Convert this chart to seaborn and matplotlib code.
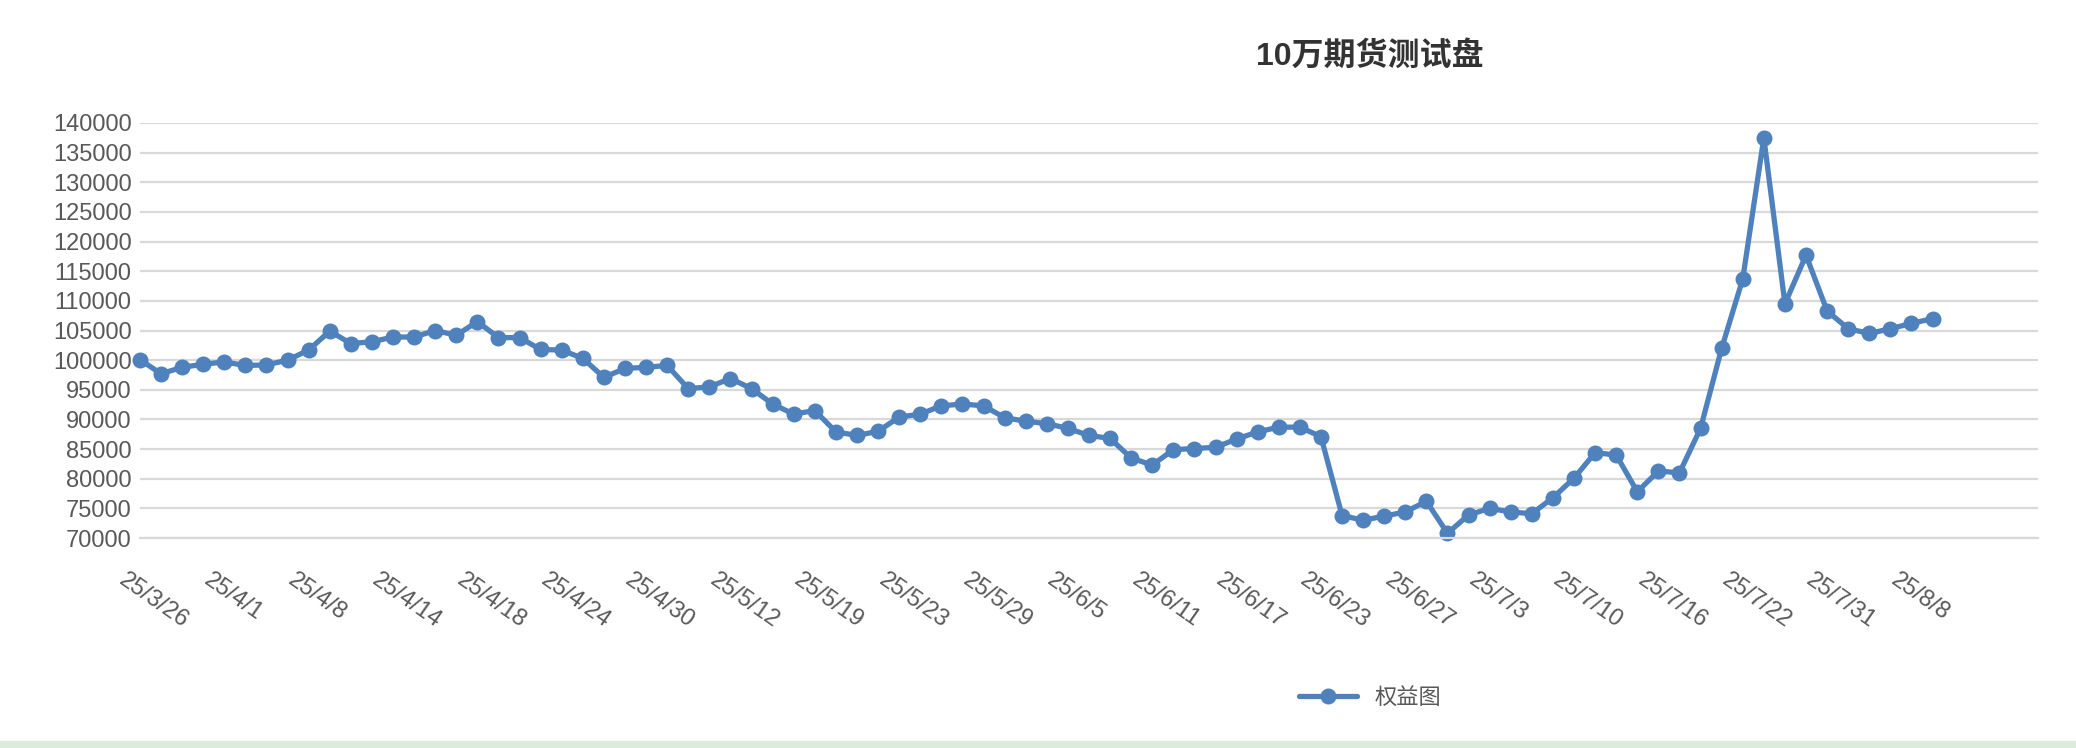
import pandas as pd
import seaborn as sns
import matplotlib.pyplot as plt
import matplotlib.transforms as mtransforms
from matplotlib.patches import Rectangle

# equity values, one per trading day
equity = [
    100100, 97700, 98800, 99300, 99700, 99100, 99200, 100000, 101700, 104900,
    102800, 103100, 103900, 103900, 105000, 104200, 106500, 103800, 103800, 101800,
    101700, 100300, 97100, 98600, 98800, 99100, 95200, 95500, 96900, 95200,
    92600, 90900, 91500, 87900, 87300, 88000, 90400, 90900, 92300, 92600,
    92300, 90300, 89700, 89300, 88500, 87300, 86800, 83500, 82300, 84900,
    85100, 85300, 86700, 87900, 88700, 88700, 87100, 73800, 73000, 73700,
    74400, 76200, 70800, 73900, 75000, 74400, 74100, 76800, 80100, 84400,
    84000, 77800, 81300, 81000, 88500, 102000, 113700, 137500, 109500, 117700,
    108300, 105300, 104500, 105300, 106200, 107000,
]
date_labels = [
    '25/3/26', '25/4/1', '25/4/8', '25/4/14', '25/4/18', '25/4/24', '25/4/30',
    '25/5/12', '25/5/19', '25/5/23', '25/5/29', '25/6/5', '25/6/11', '25/6/17',
    '25/6/23', '25/6/27', '25/7/3', '25/7/10', '25/7/16', '25/7/22', '25/7/31',
    '25/8/8',
]
n_categories = 91  # axis keeps a few empty slots after the last day

sns.set_style('white')
plt.rcParams['font.family'] = ['Liberation Sans', 'Noto Sans CJK SC']

df = pd.DataFrame({'day': range(len(equity)), 'equity': equity})

fig = plt.figure(figsize=(20.76, 7.48), dpi=100)
ax = fig.add_axes([0.0674, 0.2807, 0.9143, 0.5549])

sns.lineplot(data=df, x='day', y='equity', ax=ax, color='#4F81BD', linewidth=3.8,
             marker='o', markersize=11.5, markeredgewidth=0, label='权益图', clip_on=False)

ax.set_xlim(0, n_categories - 1)
ax.set_ylim(70000, 140000)
ax.set_yticks(range(70000, 140001, 5000))
ax.yaxis.grid(True, color='#D9D9D9', linewidth=1.6)
ax.set_axisbelow(True)
for side in ['top', 'right', 'left']:
    ax.spines[side].set_visible(False)
ax.spines['bottom'].set_color('#D9D9D9')
ax.spines['bottom'].set_linewidth(1.6)

ax.set_xticks(range(0, n_categories, 2), minor=True)
ax.set_xticks(range(0, 4 * len(date_labels), 4))
ax.set_xticklabels(date_labels, rotation=-35, ha='left', va='top', rotation_mode='anchor')
ax.tick_params(axis='x', which='both', direction='inout', length=13, width=1.6,
               color='#D9D9D9', labelsize=17, labelcolor='#595959', pad=16)
offset = mtransforms.ScaledTranslation(-0.12, 0, fig.dpi_scale_trans)
for lbl in ax.get_xticklabels():
    lbl.set_transform(lbl.get_transform() + offset)
ax.tick_params(axis='y', length=0, labelsize=17, labelcolor='#595959', pad=6)
ax.set_xlabel('')
ax.set_ylabel('')

fig.text(0.66, 0.925, '10万期货测试盘', ha='center', va='center', fontsize=23,
         fontweight='bold', color='#333333')

ax.legend(loc='center', bbox_to_anchor=(0.66, 0.067), bbox_transform=fig.transFigure,
          frameon=False, fontsize=16, labelcolor='#595959', handlelength=2.6)

fig.add_artist(Rectangle((0, 0), 1, 0.01, transform=fig.transFigure,
                         color='#DCEBDC', zorder=0))

fig.savefig('out.png', dpi=100)
